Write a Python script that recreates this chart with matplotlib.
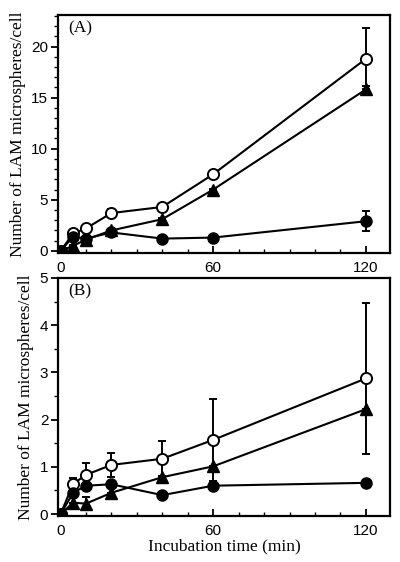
import matplotlib
matplotlib.use("Agg")
import matplotlib.pyplot as plt
from matplotlib.ticker import MultipleLocator, FixedLocator

time = [0, 5, 10, 20, 40, 60, 120]

# Panel A
a_open = [0, 1.7, 2.2, 3.7, 4.3, 7.5, 18.8]
a_open_err = [0, 0.15, 0.2, 0.4, 0.2, 0.2, 3.0]
a_tri = [0, 0.5, 1.1, 2.0, 3.1, 6.0, 15.8]
a_tri_err = [0, 0.1, 0.1, 0.1, 0.1, 0.1, 0.3]
a_fill = [0, 1.4, 1.2, 1.8, 1.2, 1.3, 2.9]
a_fill_err = [0, 0.1, 0.1, 0.2, 0.1, 0.1, 1.0]

# Panel B
b_open = [0, 0.64, 0.83, 1.04, 1.17, 1.57, 2.87]
b_open_err = [0, 0.12, 0.24, 0.26, 0.37, 0.87, 1.6]
b_tri = [0, 0.24, 0.22, 0.45, 0.78, 1.01, 2.22]
b_tri_err = [0, 0.0, 0.13, 0.0, 0.0, 0.0, 0.0]
b_fill = [0, 0.45, 0.6, 0.63, 0.4, 0.6, 0.66]
b_fill_err = [0, 0.0, 0.0, 0.0, 0.0, 0.0, 0.0]

xticks = [0, 60, 120]
ylabel = "Number of LAM microspheres/cell"
xlabel = "Incubation time (min)"

serif = "Liberation Serif"
sans = "Liberation Sans"

fig = plt.figure(figsize=(4.0, 5.62), dpi=100)
axA = fig.add_axes([0.145, 0.55, 0.83, 0.4235])
axB = fig.add_axes([0.145, 0.082, 0.83, 0.4235])

lw = 1.5
ms = 8

def draw(ax, o, oe, t, te, f, fe):
    ax.errorbar(time, o, yerr=oe, color="black", lw=lw, marker="o", ms=ms,
                mfc="white", mec="black", mew=1.4, capsize=3, elinewidth=1.4,
                capthick=1.4, zorder=3)
    ax.errorbar(time, t, yerr=te, color="black", lw=lw, marker="^", ms=ms,
                mfc="black", mec="black", capsize=3, elinewidth=1.4,
                capthick=1.4, zorder=4)
    ax.errorbar(time, f, yerr=fe, color="black", lw=lw, marker="o", ms=ms,
                mfc="black", mec="black", capsize=3, elinewidth=1.4,
                capthick=1.4, zorder=5)

draw(axA, a_open, a_open_err, a_tri, a_tri_err, a_fill, a_fill_err)
draw(axB, b_open, b_open_err, b_tri, b_tri_err, b_fill, b_fill_err)

axA.set_ylim(-0.2, 23.1)
axA.yaxis.set_major_locator(MultipleLocator(5))
axA.yaxis.set_minor_locator(MultipleLocator(1))
axB.set_ylim(-0.04, 5.0)
axB.yaxis.set_major_locator(MultipleLocator(1))
axB.yaxis.set_minor_locator(MultipleLocator(0.5))

for ax, lab in ((axA, "(A)"), (axB, "(B)")):
    ax.set_xlim(-1, 129.5)
    ax.xaxis.set_major_locator(FixedLocator(xticks))
    ax.xaxis.set_minor_locator(MultipleLocator(10))
    for s in ax.spines.values():
        s.set_linewidth(1.6)
    ax.tick_params(axis="y", which="major", direction="out", length=5, width=1.3,
                   labelsize=11, pad=2)
    ax.tick_params(axis="y", which="minor", direction="out", length=3, width=1.0)
    ax.tick_params(axis="x", which="major", direction="in", length=5, width=1.3,
                   labelsize=11, pad=6)
    ax.tick_params(axis="x", which="minor", direction="in", length=3, width=1.0)
    for t in ax.get_xticklabels() + ax.get_yticklabels():
        t.set_fontfamily(sans)
    ax.set_ylabel(ylabel, fontfamily=serif, fontsize=12.5, labelpad=4)
    ax.text(0.03, 0.975, lab, transform=ax.transAxes, fontfamily=serif,
            fontsize=12.5, va="top", ha="left")

axB.set_xlabel(xlabel, fontfamily=serif, fontsize=12.5, labelpad=0)

fig.savefig("out.png", dpi=100)
